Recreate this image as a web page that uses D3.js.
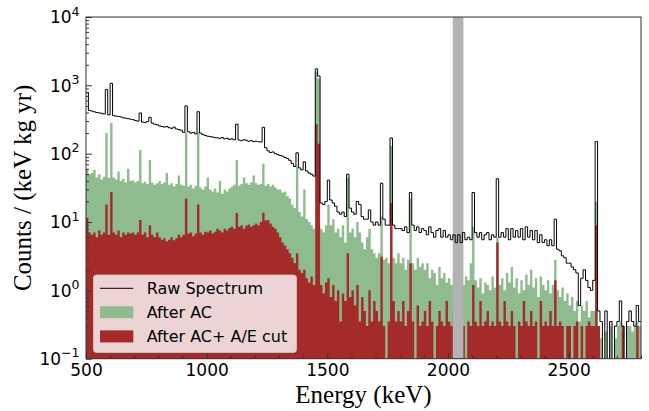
<!DOCTYPE html>
<html>
<head>
<meta charset="utf-8">
<script src="https://cdn.jsdelivr.net/npm/d3@7"></script>
<style>
  html, body { margin: 0; padding: 0; background: #fff; }
  svg { display: block; }
</style>
</head>
<body>
<div id="chart"></div>
<script>
// ---- data (10 keV bins from 500 keV) ----
const binStart = 500;
const binWidth = 10;
const rawSpectrum = [
  780, 430, 420, 410, 400, 395, 390, 380, 870, 370,
  1070, 360, 355, 350, 345, 335, 330, 325, 320, 315,
  305, 300, 394, 290, 285, 295, 340, 280, 270, 265,
  255, 250, 245, 250, 240, 235, 245, 230, 225, 220,
  205, 500, 210, 200, 205, 195, 411, 200, 190, 185,
  180, 178, 175, 172, 170, 168, 172, 165, 168, 162,
  165, 160, 270, 158, 155, 160, 157, 152, 155, 150,
  152, 150, 148, 243, 122, 110, 104, 106, 100, 97,
  94, 92, 88, 85, 80, 72, 65, 103, 62, 58,
  76, 56, 52, 50, 47, 1740, 1370, 19, 18, 20,
  41, 21, 19, 17, 14, 13, 14, 12, 50, 16,
  14, 13, 20, 18, 12, 11, 11, 15, 10, 9,
  10, 9, 37, 11, 9, 9, 170, 9, 8, 8,
  8, 7.5, 8.5, 7, 27, 9, 7.5, 8.5, 7, 8,
  7.5, 6.5, 8.5, 7, 6, 7.5, 8, 6, 7.5, 6,
  6.5, 5.5, 6.5, 5, 6.5, 5, 7, 5.5, 6, 5.5,
  27, 7, 6, 7, 5.5, 6.5, 7, 5.5, 6.5, 6,
  43, 6, 7, 6, 8, 5.5, 8, 6, 7.5, 6,
  8, 5.5, 8.5, 6, 7.5, 5.5, 7.5, 5, 6.5, 5,
  5.5, 4.5, 5.5, 4.5, 11, 4, 3.8, 3.2, 3, 2.5,
  2.5, 2.2, 2, 1.8, 0.6, 1.5, 2, 1.4, 1.1, 1,
  1.4, 150, 0.5, 0.35, 0, 0.5, 0, 0.35, 0, 0.3,
  0.35, 0.7, 0.3, 0, 0.35, 0.5, 0.35, 0.3, 0.6, 0.35
];
const afterAC = [
  60, 50, 52, 58, 45, 50, 42, 46, 200, 44,
  280, 45, 42, 55, 40, 43, 38, 60, 40, 41,
  38, 40, 113, 37, 39, 36, 81, 38, 35, 37,
  40, 36, 38, 52, 35, 37, 33, 36, 48, 35,
  34, 204, 33, 35, 31, 34, 204, 32, 30, 33,
  45, 30, 28, 31, 27, 40, 26, 30, 28, 31,
  33, 35, 81, 34, 36, 45, 37, 35, 38, 48,
  37, 35, 36, 71, 34, 36, 33, 35, 32, 30,
  30, 27, 28, 24, 22, 18, 16, 65, 14, 12,
  30, 11, 10, 9, 8, 1600, 1250, 8, 7, 9,
  18, 9, 11, 7, 8, 6, 9, 5, 45, 7,
  8, 6, 10, 7, 5, 4, 6, 8, 4, 3.5,
  3, 3.5, 12, 2.8, 3, 2.5, 130, 3, 2.5, 3.5,
  2.5, 3, 2, 2.8, 22, 2.5, 2, 3, 2.2, 2.5,
  2, 2.5, 1.5, 2, 1.8, 1.2, 2.2, 1.5, 1.8, 1.3,
  1.5, 1.2, 1.8, 1.5, 1.3, 2, 1.2, 1.6, 1.4, 2.5,
  8.5, 1.4, 1.1, 1.5, 0.9, 1.3, 1.2, 1.0, 1.6, 1.1,
  6, 1.2, 1.5, 1.0, 1.8, 1.3, 2.2, 1.1, 1.5, 0.9,
  1.4, 1.0, 1.7, 1.2, 2.0, 1.1, 1.5, 0.8, 1.6, 1.2,
  1.0, 1.4, 0.9, 1.2, 2.8, 1.0, 0.8, 1.1, 0.7, 0.9,
  0.6, 0.8, 0.5, 0.7, 0.35, 0.6, 0.5, 0.7, 0.4, 0.5,
  0.5, 20, 0.3, 0.2, 0, 0.25, 0, 0.3, 0, 0.2,
  0.3, 0.35, 0.25, 0, 0.3, 0.3, 0.25, 0.3, 0.35, 0.3
];
const afterACAE = [
  11.5, 7, 6.5, 7, 6, 7.5, 6.5, 7, 18, 6.5,
  27.6, 7, 6.5, 7.5, 6, 7, 6.5, 7, 6.8, 7,
  6.5, 7, 10.7, 6.5, 7, 6, 9, 6.5, 6, 7,
  6, 5.5, 5.8, 5.2, 5.5, 6, 5.4, 5.8, 6.5, 6,
  6.5, 22, 6.8, 7, 6.2, 6.8, 18, 7, 6.5, 7.2,
  7, 7.5, 6.8, 7.2, 8, 7.5, 7, 8, 7.5, 8.2,
  8.5, 8, 13.5, 8.5, 9, 8, 8.8, 9.2, 8.5, 9,
  9.5, 9, 10, 13.7, 10.5, 10.7, 9.5, 8.5, 8, 7,
  6, 5, 4.5, 4, 3.5, 3, 2.5, 3.5, 2, 1.8,
  2, 1.5, 1.3, 1.6, 1.2, 270, 140, 1.2, 0.9, 1.3,
  1.5, 0.8, 1.2, 0.7, 1.0, 0.35, 0.9, 0.7, 3.5, 0.8,
  1.0, 0.6, 1.2, 0.35, 0.8, 0.5, 0.3, 1.0, 0.35, 0.7,
  0.5, 0.35, 3.1, 0.3, 0, 0.35, 19, 0.7, 0.35, 0.5,
  0.35, 0.7, 0.3, 0.5, 2.5, 0.35, 0, 0.6, 0.3, 0.35,
  0.5, 0.3, 0.7, 0.35, 0, 0.3, 0.5, 0.35, 0.3, 0.7,
  0.35, 0.3, 0.5, 0.3, 0.35, 0.7, 0.3, 0, 0.35, 0.3,
  1.2, 0.35, 0.3, 0.7, 0.3, 0.35, 0.5, 0.3, 0.35, 0.3,
  5, 0.35, 0.3, 0.7, 0.35, 0.3, 0.5, 0.3, 0, 0.35,
  0.3, 0.7, 0.35, 0.3, 0.5, 0.3, 0.35, 0, 0.7, 0.3,
  0.35, 0.3, 0.5, 0.3, 1.4, 0.3, 0.35, 0.3, 0, 0.3,
  0.3, 0, 0.3, 0.35, 0, 0.3, 0, 0.3, 0.35, 0.3,
  0.3, 9, 0.3, 0, 0, 0, 0, 0, 0, 0,
  0, 0, 0.3, 0, 0, 0, 0, 0, 0.3, 0
];
const roiBand = [2020, 2064];
const xTicks = [500, 1000, 1500, 2000, 2500];
const yTickExps = [-1, 0, 1, 2, 3, 4];
const legendLabels = ["Raw Spectrum", "After AC", "After AC+ A/E cut"];
const xLabel = "Energy (keV)";
const yLabel = "Counts / (keV kg yr)";

// ---- layout ----
const W = 649, H = 411;
const L = 86, R = 641, T = 17, B = 358.7;
const colGreen = "#8fbc8f", colRed = "#a52a2a", colBand = "#b3b3b3", colAxis = "#333";

const svg = d3.select("#chart").append("svg").attr("width", W).attr("height", H);

const x = d3.scaleLinear().domain([500, 2800]).range([L, R]);
const y = d3.scaleLog().domain([0.1, 1e4]).range([B, T]);
const yv = v => v > 0 ? Math.min(y(v), B + 20) : B + 20;

svg.append("defs").append("clipPath").attr("id", "plotclip")
  .append("rect").attr("x", L).attr("y", T).attr("width", R - L).attr("height", B - T);

function toSteps(arr) {
  const pts = arr.map((v, i) => ({ e: binStart + i * binWidth, v }));
  pts.push({ e: binStart + arr.length * binWidth, v: arr[arr.length - 1] });
  return pts;
}

const g = svg.append("g").attr("clip-path", "url(#plotclip)");

const area = d3.area().curve(d3.curveStepAfter)
  .x(d => x(d.e)).y0(B + 20).y1(d => yv(d.v));

g.append("path").datum(toSteps(afterAC)).attr("d", area).attr("fill", colGreen);
g.append("path").datum(toSteps(afterACAE)).attr("d", area).attr("fill", colRed);

g.append("rect")
  .attr("x", x(roiBand[0])).attr("y", T)
  .attr("width", x(roiBand[1]) - x(roiBand[0])).attr("height", B - T)
  .attr("fill", colBand);

const line = d3.line().curve(d3.curveStepAfter).x(d => x(d.e)).y(d => yv(d.v));
g.append("path").datum(toSteps(rawSpectrum)).attr("d", line)
  .attr("fill", "none").attr("stroke", "#000").attr("stroke-width", 1);

// ---- axes ----
const xMinor = d3.range(500, 2801, 100).filter(v => !xTicks.includes(v));
const xAxis = d3.axisBottom(x).tickValues(xTicks).tickSizeInner(-6).tickSizeOuter(0)
  .tickPadding(5.5).tickFormat(d3.format("d"));
const gx = svg.append("g").attr("transform", `translate(0,${B})`).call(xAxis);
gx.select(".domain").remove();
gx.selectAll(".tick line").attr("stroke", colAxis);
gx.selectAll(".tick text").attr("font-family", "DejaVu Sans").attr("font-size", 17).attr("fill", "#000");
const xMinorAxis = d3.axisBottom(x).tickValues(xMinor).tickSizeInner(-3).tickSizeOuter(0).tickFormat("");
const gxm = svg.append("g").attr("transform", `translate(0,${B})`).call(xMinorAxis);
gxm.select(".domain").remove();
gxm.selectAll(".tick line").attr("stroke", colAxis);

const yMajor = yTickExps.map(e => Math.pow(10, e));
const yMinor = [];
yTickExps.slice(0, -1).forEach(e => { for (let k = 2; k <= 9; k++) yMinor.push(k * Math.pow(10, e)); });
const yAxis = d3.axisLeft(y).tickValues(yMajor).tickSizeInner(-6).tickSizeOuter(0).tickFormat("");
const gy = svg.append("g").attr("transform", `translate(${L},0)`).call(yAxis);
gy.select(".domain").remove();
gy.selectAll(".tick line").attr("stroke", colAxis);
const yMinorAxis = d3.axisLeft(y).tickValues(yMinor).tickSizeInner(-3).tickSizeOuter(0).tickFormat("");
const gym = svg.append("g").attr("transform", `translate(${L},0)`).call(yMinorAxis);
gym.select(".domain").remove();
gym.selectAll(".tick line").attr("stroke", colAxis);

// y tick labels with superscripts
yTickExps.forEach(e => {
  const t = svg.append("text")
    .attr("x", L - 6.5).attr("y", y(Math.pow(10, e)) + 6.3)
    .attr("text-anchor", "end").attr("font-family", "DejaVu Sans").attr("font-size", 17).attr("fill", "#000");
  t.append("tspan").text("10");
  t.append("tspan").attr("dy", -7.6).attr("font-size", 12.5).text(e < 0 ? "\u2212" + (-e) : String(e));
});

// spines
svg.append("rect").attr("x", L).attr("y", T).attr("width", R - L).attr("height", B - T)
  .attr("fill", "none").attr("stroke", colAxis).attr("stroke-width", 1);

// axis labels
svg.append("text").attr("x", (L + R) / 2).attr("y", 403)
  .attr("text-anchor", "middle").attr("font-family", "Liberation Serif").attr("font-size", 25)
  .attr("fill", "#000").text(xLabel);
svg.append("text").attr("transform", `translate(31,${(T + B) / 2}) rotate(-90)`)
  .attr("text-anchor", "middle").attr("font-family", "Liberation Serif").attr("font-size", 25)
  .attr("fill", "#000").text(yLabel);

// ---- legend ----
const lg = svg.append("g");
lg.append("rect").attr("x", 93.5).attr("y", 275).attr("width", 203).attr("height", 77.5)
  .attr("rx", 3).attr("fill", "#fff").attr("fill-opacity", 0.8)
  .attr("stroke", "#ccc").attr("stroke-opacity", 0.8);
const rowY = [288.3, 312.2, 336.4];
lg.append("line").attr("x1", 100).attr("x2", 133.3).attr("y1", rowY[0]).attr("y2", rowY[0])
  .attr("stroke", "#000").attr("stroke-width", 1);
lg.append("rect").attr("x", 100).attr("y", rowY[1] - 6).attr("width", 33.3).attr("height", 12).attr("fill", colGreen);
lg.append("rect").attr("x", 100).attr("y", rowY[2] - 6).attr("width", 33.3).attr("height", 12).attr("fill", colRed);
legendLabels.forEach((s, i) => {
  lg.append("text").attr("x", 146.7).attr("y", rowY[i] + 5.8)
    .attr("font-family", "DejaVu Sans").attr("font-size", 16).attr("fill", "#000").text(s);
});
</script>
</body>
</html>
